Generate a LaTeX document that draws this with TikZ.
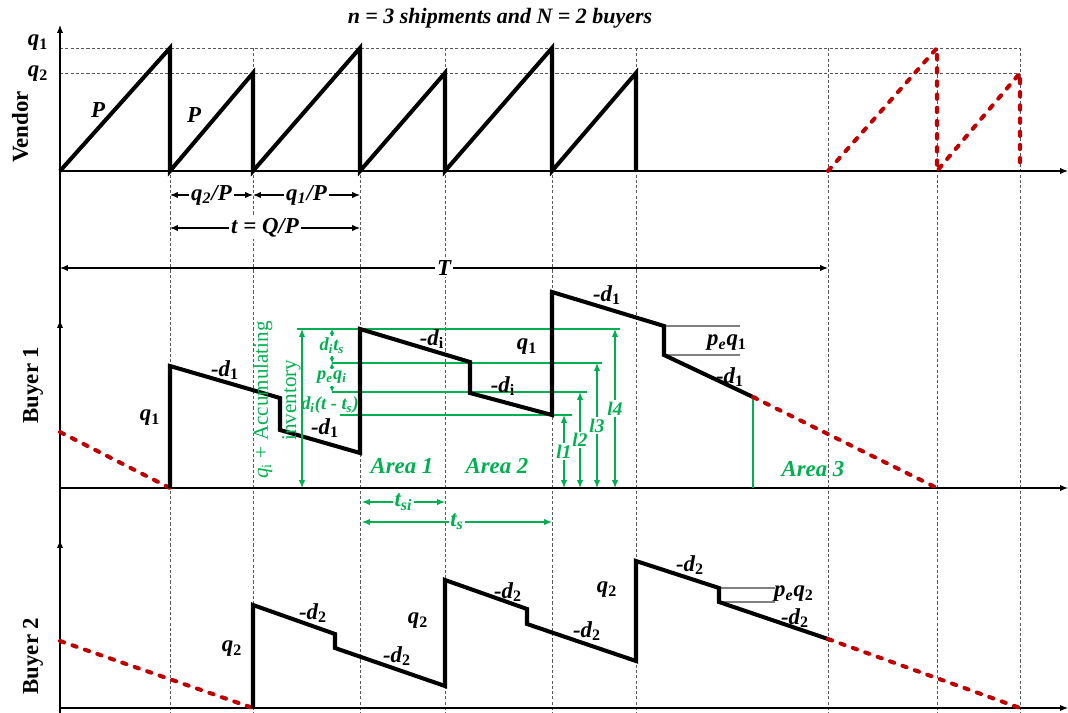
\documentclass[tikz,border=0pt]{standalone}
\usepackage{fontspec}
\setmainfont{Liberation Serif}
\usetikzlibrary{calc, arrows, arrows.meta}
\definecolor{areagreen}{RGB}{0,176,80}
\definecolor{projred}{RGB}{192,0,0}
\newcommand{\sbs}[1]{\textsubscript{#1}}
\newcommand{\upsbs}[1]{\textsubscript{\upshape #1}}

\begin{document}
\begin{tikzpicture}[x=0.02cm, y=-0.02cm, >={Latex[length=4.5pt,width=3.6pt]},
    stock/.style={line width=2.3pt, line join=miter},
    proj/.style={projred, line width=2.3pt, line cap=round, dash pattern=on 2.5pt off 5pt},
    grid line/.style={black!65, line width=0.5pt, dash pattern=on 1.8pt off 1.2pt},
    axis/.style={line width=0.7pt, ->},
    dim/.style={line width=0.6pt, <->},
    gdim/.style={areagreen, line width=0.6pt, <->},
    gline/.style={areagreen, line width=0.6pt},
    lbl/.style={font=\bfseries\itshape\fontsize{13}{15}\selectfont, inner sep=1pt},
    glbl/.style={lbl, text=areagreen},
    small glbl/.style={glbl, font=\bfseries\itshape\fontsize{10.5}{12}\selectfont},
    panel/.style={rotate=90, font=\bfseries\fontsize{13}{15}\selectfont} ]
    \useasboundingbox (0,0) rectangle (1068,713);
    % grid
    \foreach \gx in {170,253,360,445,552,636,828,937,1020}
      \draw [grid line] (\gx,48) -- (\gx,713);
    \draw [grid line] (60,48) -- (1020,48);
    \draw [grid line] (60,73) -- (1020,73);
    % axes
    \draw [axis] (60,713) -- (60,25);
    \draw [axis] (60,488) -- (60,320);
    \draw [axis] (60,708) -- (60,540);
    \draw [axis] (60,171) -- (1068,171);
    \draw [axis] (60,488) -- (1068,488);
    \draw [axis] (60,708) -- (1068,708);
    \node at (500,18) [lbl, font=\bfseries\itshape\fontsize{12.5}{15}\selectfont] (title) {n = 3 shipments and N = 2 buyers};
    \node at (20,127) [panel] (vendor) {Vendor};
    \node at (33,385) [panel] (buyer1) {Buyer 1};
    \node at (33,656) [panel] (buyer2) {Buyer 2};
    % vendor
    \draw [stock] (60,171) -- (170,48) -- (170,171) -- (253,73) -- (253,171) -- (360,48) -- (360,171)
      -- (445,73) -- (445,171) -- (552,48) -- (552,171) -- (636,73) -- (636,171);
    \draw [proj] (828,171) -- (937,48) -- (937,171) -- (1020,73) -- (1020,171);
    \node at (38,43) [lbl] (q1v) {q\upsbs{1}};
    \node at (38,74) [lbl] (q2v) {q\upsbs{2}};
    \node at (98,110) [lbl] (P1) {P};
    \node at (194,115) [lbl] (P2) {P};
    \coordinate (a1) at (170,195);
    \coordinate (a2) at (253,195);
    \coordinate (a3) at (360,195);
    \coordinate (b1) at (170,228);
    \coordinate (b2) at (360,228);
    \coordinate (c1) at (60,268);
    \coordinate (c2) at (828,268);
    \draw [dim] (a1) -- node [lbl, fill=white] (q2P) {q\sbs{2}/P} (a2);
    \draw [dim] (a2) -- node [lbl, fill=white] (q1P) {q\sbs{1}/P} (a3);
    \draw [dim] (b1) -- node [lbl, fill=white] (tQP) {t = Q/P} (b2);
    \draw [dim] (c1) -- node [lbl, fill=white] (Tlen) {T} (c2);
    % buyer 1
    \draw [gline] (297,329) -- (620,329);
    \draw [gline] (332,363) -- (602,363);
    \draw [gline] (332,392) -- (587,392);
    \draw [gline] (340,415) -- (572,415);
    \draw [gline] (753,397) -- (753,488);
    \draw [gray, line width=0.6pt] (664,326) -- (740,326) (664,355) -- (740,355);
    \draw [proj] (60,432) -- (170,488);
    \draw [stock] (170,488) -- (170,366) -- (280,398) -- (280,430) -- (360,453) -- (360,329) -- (470,362)
      -- (470,393) -- (552,415) -- (552,292) -- (664,326) -- (664,355) -- (753,397);
    \draw [proj] (753,397) -- (937,488);
    \node at (150,418) [lbl] (q1a) {q\upsbs{1}};
    \node at (225,370) [lbl] (d1a) {-d\upsbs{1}};
    \node at (325,428) [lbl] (d1b) {-d\upsbs{1}};
    \node at (432,339) [lbl] (dia) {-d\upsbs{i}};
    \node at (527,347) [lbl] (q1b) {q\upsbs{1}};
    \node at (503,386) [lbl] (dib) {-d\upsbs{i}};
    \node at (607,295) [lbl] (d1c) {-d\upsbs{1}};
    \node at (727,343) [lbl] (peq1) {p\sbs{e}q\upsbs{1}};
    \node at (730,377) [lbl] (d1d) {-d\upsbs{1}};
    % buyer 1 annotations
    \coordinate (g0) at (302,329);
    \coordinate (g1) at (302,488);
    \draw [gdim] (g0) -- (g1);
    \node at (277,400) [rotate=90, align=center, text=areagreen, font=\fontsize{12}{16}\selectfont] (acc)
      {\textit{q}\upsbs{i} + Accumulating\\inventory};
    \coordinate (s0) at (332,329);
    \coordinate (s1) at (332,363);
    \coordinate (s2) at (332,392);
    \draw [gdim, >={Latex[length=3pt,width=3pt]}] (s0) -- node [small glbl, fill=white] (dits) {d\sbs{i}t\sbs{s}} (s1);
    \draw [gdim, >={Latex[length=3pt,width=3pt]}] (s1) -- node [small glbl, fill=white] (peqi) {p\sbs{e}q\sbs{i}} (s2);
    \node at (330,405) [small glbl] (ditts) {d\sbs{i}(t - t\sbs{s})};
    \foreach \lx/\ly/\ln in {564/415/1, 580/392/2, 597/363/3, 615/329/4}
      \draw [gdim] (\lx,\ly) -- node [glbl, fill=white, font=\bfseries\itshape\fontsize{11}{12}\selectfont] (l\ln) {l\ln} (\lx,488);
    \node at (402,466) [glbl] (area1) {Area 1};
    \node at (497,466) [glbl] (area2) {Area 2};
    \node at (813,469) [glbl] (area3) {Area 3};
    \coordinate (u1) at (362,502);
    \coordinate (u2) at (445,502);
    \coordinate (v1) at (362,522);
    \coordinate (v2) at (552,522);
    \draw [gdim] (u1) -- node [glbl, fill=white] (tsi) {t\sbs{si}} (u2);
    \draw [gdim] (v1) -- node [glbl, fill=white] (ts) {t\sbs{s}} (v2);
    % buyer 2
    \draw [gray, line width=0.6pt] (719,588) -- (775,588) (719,602) -- (775,602);
    \draw [proj] (60,641) -- (253,708);
    \draw [stock] (253,708) -- (253,605) -- (335,634) -- (335,648) -- (445,686) -- (445,580) -- (527,609)
      -- (527,624) -- (636,661) -- (636,561) -- (719,588) -- (719,602) -- (828,639);
    \draw [proj] (828,639) -- (1020,708);
    \node at (232,649) [lbl] (q2a) {q\upsbs{2}};
    \node at (313,613) [lbl] (d2a) {-d\upsbs{2}};
    \node at (397,656) [lbl] (d2b) {-d\upsbs{2}};
    \node at (418,621) [lbl] (q2b) {q\upsbs{2}};
    \node at (508,592) [lbl] (d2c) {-d\upsbs{2}};
    \node at (587,631) [lbl] (d2d) {-d\upsbs{2}};
    \node at (607,590) [lbl] (q2c) {q\upsbs{2}};
    \node at (690,565) [lbl] (d2e) {-d\upsbs{2}};
    \node at (794,594) [lbl] (peq2) {p\sbs{e}q\upsbs{2}};
    \node at (795,618) [lbl] (d2f) {-d\upsbs{2}};
\end{tikzpicture}
\end{document}
